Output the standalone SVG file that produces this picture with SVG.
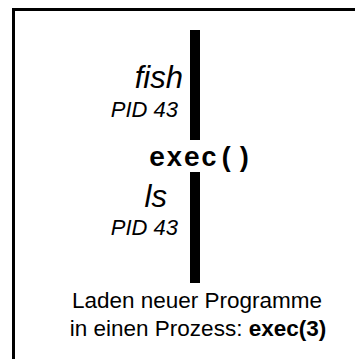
<svg xmlns="http://www.w3.org/2000/svg" width="355" height="359" viewBox="0 0 355 359">
<style>
.frame{fill:none;stroke:#000;stroke-width:3}
.bar{fill:#000}
.big{font-family:"Liberation Sans",Arial,sans-serif;font-style:italic;font-size:31px;fill:#000}
.pid{font-family:"Liberation Sans",Arial,sans-serif;font-style:italic;font-size:22px;fill:#000}
.call{font-family:"Liberation Mono","Courier New",monospace;font-weight:bold;font-size:27px;fill:#000}
.cap{font-family:"Liberation Sans",Arial,sans-serif;font-size:22.5px;fill:#000}
</style>
<rect width="355" height="359" fill="#fff"/>
<path class="frame" d="M13.5,359 V9.5 H355"/>
<g id="connectors">
<rect class="bar" x="190" y="30" width="10" height="110"/>
<rect class="bar" x="190" y="172" width="10" height="111"/>
</g>
<g id="fish">
<text class="big" x="183" y="88" text-anchor="end">fish</text>
<text class="pid" x="178" y="117" text-anchor="end">PID 43</text>
</g>
<g id="exec">
<text class="call" x="149" y="166" textLength="103" lengthAdjust="spacing">exec()</text>
</g>
<g id="ls">
<text class="big" x="167" y="207" text-anchor="end">ls</text>
<text class="pid" x="178" y="235" text-anchor="end">PID 43</text>
</g>
<g id="caption">
<text class="cap" x="197" y="308" text-anchor="middle">Laden neuer Programme</text>
<text class="cap" x="198" y="336" text-anchor="middle">in einen Prozess: <tspan font-weight="bold">exec(3)</tspan></text>
</g>
</svg>
